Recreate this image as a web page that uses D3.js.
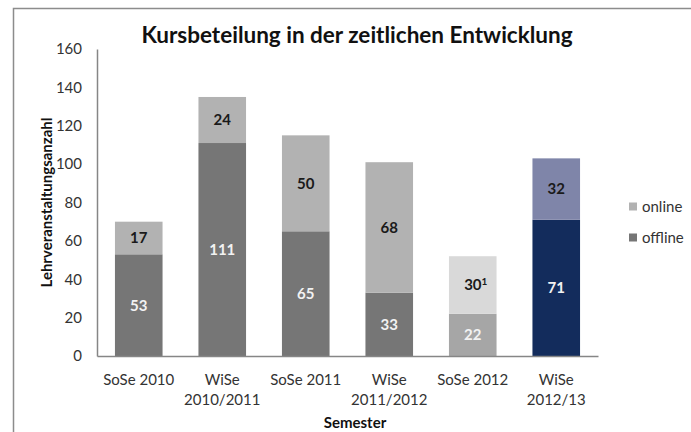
<!DOCTYPE html>
<html><head><meta charset="utf-8">
<script src="https://cdn.jsdelivr.net/npm/d3@7"></script>
<style>body{margin:0;background:#fff}svg{display:block}</style>
</head><body>
<script>
const categories = [["SoSe 2010"],["WiSe","2010/2011"],["SoSe 2011"],["WiSe","2011/2012"],["SoSe 2012"],["WiSe","2012/13"]];
const offline = [53,111,65,33,22,71];
const online = [17,24,50,68,30,32];
const onlineNote = ["","","","","1",""];
const offlineColors = ["#767676","#767676","#767676","#767676","#a6a6a6","#132c5c"];
const onlineColors = ["#b2b2b2","#b2b2b2","#b2b2b2","#b2b2b2","#d9d9d9","#7f85a9"];
const yTicks = [0,20,40,60,80,100,120,140,160];
const seriesNames = ["online","offline"];

const W=691,H=432;
const font="Lato, 'Open Sans', sans-serif";
const svg=d3.select("body").append("svg").attr("width",W).attr("height",H);

// frame
svg.append("path").attr("d",`M13.5,${H} L13.5,8.5 L${W},8.5`).attr("fill","none").attr("stroke","#8c8c8c").attr("stroke-width",1.5);

const x0=97,x1=598,yTop=49,yBot=356;
const x=d3.scaleBand().domain(d3.range(categories.length)).range([x0,x1]).paddingInner(0.43).paddingOuter(0.215);
const y=d3.scaleLinear().domain([0,160]).range([yBot,yTop]);

const g=svg.append("g");
// bars
g.selectAll("rect.off").data(offline).join("rect").attr("class","off")
 .attr("x",(d,i)=>x(i)).attr("width",x.bandwidth())
 .attr("y",d=>y(d)).attr("height",d=>y(0)-y(d)).attr("fill",(d,i)=>offlineColors[i]);
g.selectAll("rect.on").data(online).join("rect").attr("class","on")
 .attr("x",(d,i)=>x(i)).attr("width",x.bandwidth())
 .attr("y",(d,i)=>y(d+offline[i])).attr("height",(d,i)=>y(offline[i])-y(d+offline[i])).attr("fill",(d,i)=>onlineColors[i]);

// labels
g.selectAll("text.offl").data(offline).join("text").attr("class","offl")
 .attr("x",(d,i)=>x(i)+x.bandwidth()/2).attr("y",d=>y(d/2)).attr("dy","0.36em")
 .attr("text-anchor","middle").attr("font-family",font).attr("font-weight","bold").attr("font-size",15)
 .attr("fill","#f2f2f2").text(d=>d);
const onl=g.selectAll("text.onl").data(online).join("text").attr("class","onl")
 .attr("x",(d,i)=>x(i)+x.bandwidth()/2+(onlineNote[i]?3:0)).attr("y",(d,i)=>y(offline[i]+d/2)).attr("dy","0.36em")
 .attr("text-anchor","middle").attr("font-family",font).attr("font-weight","bold").attr("font-size",15)
 .attr("fill","#1a1a1a");
onl.append("tspan").text(d=>d);
onl.each(function(d,i){ if(onlineNote[i]) d3.select(this).append("tspan").attr("font-size",10).attr("dy","-0.5em").text(onlineNote[i]); });

// y axis
const ya=svg.append("g").attr("transform",`translate(${x0},0)`).call(d3.axisLeft(y).tickValues(yTicks).tickSize(0).tickPadding(15));
ya.select(".domain").attr("stroke","#868686").attr("stroke-width",1.5);
ya.selectAll("text").attr("font-family",font).attr("font-size",15).attr("fill","#333");

// x axis
const xa=svg.append("g").attr("transform",`translate(0,${yBot})`).call(d3.axisBottom(x).tickSize(0).tickFormat(""));
xa.select(".domain").attr("stroke","#868686").attr("stroke-width",1.5);
xa.selectAll(".tick").each(function(d){
  const t=d3.select(this).append("text").attr("text-anchor","middle").attr("font-family",font).attr("font-size",15).attr("fill","#333");
  categories[d].forEach((line,k)=>t.append("tspan").attr("x",0).attr("y",29+k*20).text(line));
});

// titles
svg.append("text").attr("x",357).attr("y",43).attr("text-anchor","middle").attr("font-family",font).attr("font-weight","bold").attr("font-size",22.5).attr("fill","#111").text("Kursbeteilung in der zeitlichen Entwicklung");
svg.append("text").attr("transform",`translate(52,${(yTop+yBot)/2}) rotate(-90)`).attr("text-anchor","middle").attr("font-family",font).attr("font-weight","bold").attr("font-size",15).attr("fill","#111").text("Lehrveranstaltungsanzahl");
svg.append("text").attr("x",355).attr("y",428).attr("text-anchor","middle").attr("font-family",font).attr("font-weight","bold").attr("font-size",15).attr("fill","#111").text("Semester");

// legend
const lg=svg.append("g");
const legColors=["#b2b2b2","#767676"];
seriesNames.forEach((n,k)=>{
  const yy=207+k*31;
  lg.append("rect").attr("x",629).attr("y",yy-4.5).attr("width",8).attr("height",8).attr("fill",legColors[k]);
  lg.append("text").attr("x",642).attr("y",yy).attr("dy","0.36em").attr("font-family",font).attr("font-size",15).attr("fill","#333").text(n);
});
</script>
</body></html>
